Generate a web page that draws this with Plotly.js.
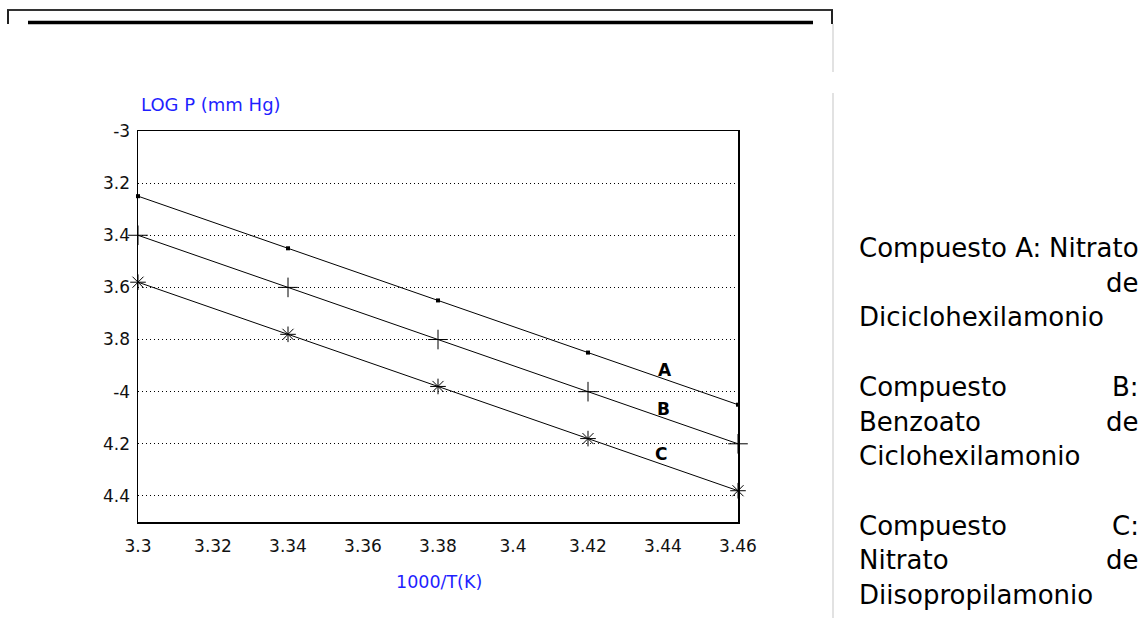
<!DOCTYPE html>
<html>
<head>
<meta charset="utf-8">
<script src="https://cdn.plot.ly/plotly-3.0.1.min.js"></script>
<style>
  html, body { margin: 0; padding: 0; background: #fff; }
  #chart { width: 1145px; height: 618px; }
</style>
</head>
<body>
<div id="chart"></div>
<script>
// ---- data ----
var xValues = [3.30, 3.34, 3.38, 3.42, 3.46];
var seriesA = [-3.25, -3.45, -3.65, -3.85, -4.05];
var seriesB = [-3.40, -3.60, -3.80, -4.00, -4.20];
var seriesC = [-3.58, -3.78, -3.98, -4.18, -4.38];
var seriesNames = ["A", "B", "C"];
var labelX = [3.4405, 3.440, 3.4395];
var labelY = [-3.915, -4.065, -4.238];

var xTickVals = [3.30, 3.32, 3.34, 3.36, 3.38, 3.40, 3.42, 3.44, 3.46];
var xTickText = ["3.3", "3.32", "3.34", "3.36", "3.38", "3.4", "3.42", "3.44", "3.46"];
var yTickVals = [-3.0, -3.2, -3.4, -3.6, -3.8, -4.0, -4.2, -4.4];
var yTickText = ["-3", "3.2", "3.4", "3.6", "3.8", "-4", "4.2", "4.4"];

var yTitle = "LOG P (mm Hg)";
var xTitle = "1000/T(K)";

// side text lines: [left part, right part, line index]
var sideLines = [
  ["Compuesto A:", "Nitrato", 0],
  ["", "de", 1],
  ["Diciclohexilamonio", "", 2],
  ["Compuesto", "B:", 4],
  ["Benzoato", "de", 5],
  ["Ciclohexilamonio", "", 6],
  ["Compuesto", "C:", 8],
  ["Nitrato", "de", 9],
  ["Diisopropilamonio", "", 10]
];

// ---- layout geometry (pixels) ----
var L = 138, R = 738, T = 131, B = 522;
var W = R - L, H = B - T;
function px(x) { return (x - L) / W; }
function py(y) { return (B - y) / H; }

var FONT = "DejaVu Sans, Verdana, sans-serif";
var BLUE = "#1f1fff";

var markerDefs = [
  {symbol: "square", size: 4, color: "#000", line: {width: 0}},
  {symbol: "cross-thin-open", size: 14, color: "#000", line: {width: 1, color: "#000"}},
  {symbol: "asterisk-open", size: 13, color: "#000", line: {width: 1, color: "#000"}}
];
var ys = [seriesA, seriesB, seriesC];

var traces = ys.map(function (yv, i) {
  return {
    type: "scatter",
    mode: "lines+markers",
    x: xValues,
    y: yv,
    name: seriesNames[i],
    line: {color: "#000", width: 1},
    marker: markerDefs[i],
    cliponaxis: false,
    hoverinfo: "x+y"
  };
});

var annotations = [];
// series labels
seriesNames.forEach(function (n, i) {
  annotations.push({
    x: labelX[i], y: labelY[i], xref: "x", yref: "y",
    text: "<b>" + n + "</b>", showarrow: false,
    font: {family: FONT, size: 17, color: "#000"},
    xanchor: "center", yanchor: "middle"
  });
});
// axis titles
annotations.push({
  x: px(139), y: py(105), xref: "paper", yref: "paper",
  text: yTitle, showarrow: false,
  font: {family: FONT, size: 18, color: BLUE},
  xanchor: "left", yanchor: "middle"
});
annotations.push({
  x: px(439), y: py(582), xref: "paper", yref: "paper",
  text: xTitle, showarrow: false,
  font: {family: FONT, size: 17.5, color: BLUE},
  xanchor: "center", yanchor: "middle"
});
// side text
var sideLeft = 857, sideRight = 1141, firstLine = 248, lineH = 34.7;
sideLines.forEach(function (ln) {
  var yc = firstLine + ln[2] * lineH;
  if (ln[0]) {
    annotations.push({
      x: px(sideLeft), y: py(yc), xref: "paper", yref: "paper",
      text: ln[0], showarrow: false, xanchor: "left", yanchor: "middle",
      font: {family: FONT, size: 26, color: "#000"}
    });
  }
  if (ln[1]) {
    annotations.push({
      x: px(sideRight), y: py(yc), xref: "paper", yref: "paper",
      text: ln[1], showarrow: false, xanchor: "right", yanchor: "middle",
      font: {family: FONT, size: 26, color: "#000"}
    });
  }
});

var shapes = [
  // top frame
  {type: "line", xref: "paper", yref: "paper", x0: px(7), x1: px(833), y0: py(10), y1: py(10), line: {color: "#333", width: 2}},
  {type: "line", xref: "paper", yref: "paper", x0: px(8), x1: px(8), y0: py(10), y1: py(24), line: {color: "#222", width: 2}},
  {type: "line", xref: "paper", yref: "paper", x0: px(832), x1: px(832), y0: py(10), y1: py(24), line: {color: "#222", width: 2}},
  {type: "line", xref: "paper", yref: "paper", x0: px(28), x1: px(813), y0: py(22.5), y1: py(22.5), line: {color: "#000", width: 3.5}},
  // light vertical separator
  {type: "line", xref: "paper", yref: "paper", x0: px(833), x1: px(833), y0: py(24), y1: py(72), line: {color: "#d8d8d8", width: 1.5}},
  {type: "line", xref: "paper", yref: "paper", x0: px(833), x1: px(833), y0: py(93), y1: py(618), line: {color: "#d8d8d8", width: 1.5}}
];

var layout = {
  width: 1145, height: 618,
  margin: {l: L, r: 1145 - R, t: T, b: 618 - B, pad: 0},
  paper_bgcolor: "#fff", plot_bgcolor: "#fff",
  showlegend: false,
  font: {family: FONT, color: "#111"},
  xaxis: {
    range: [3.30, 3.46],
    tickmode: "array", tickvals: xTickVals, ticktext: xTickText,
    showgrid: false, zeroline: false,
    showline: true, mirror: true, linecolor: "#000", linewidth: 1.5,
    ticks: "", ticklabelstandoff: 8,
    tickfont: {family: FONT, size: 17, color: "#111"},
    fixedrange: true
  },
  yaxis: {
    range: [-4.5, -3.0],
    tickmode: "array", tickvals: yTickVals, ticktext: yTickText,
    showgrid: true, gridcolor: "#000", gridwidth: 1, griddash: "1px,3px",
    zeroline: false,
    showline: true, mirror: true, linecolor: "#000", linewidth: 1.5,
    ticks: "", ticklabelstandoff: 3,
    tickfont: {family: FONT, size: 17, color: "#111"},
    fixedrange: true
  },
  annotations: annotations,
  shapes: shapes
};

Plotly.newPlot("chart", traces, layout, {displayModeBar: false, staticPlot: true});
</script>
</body>
</html>
